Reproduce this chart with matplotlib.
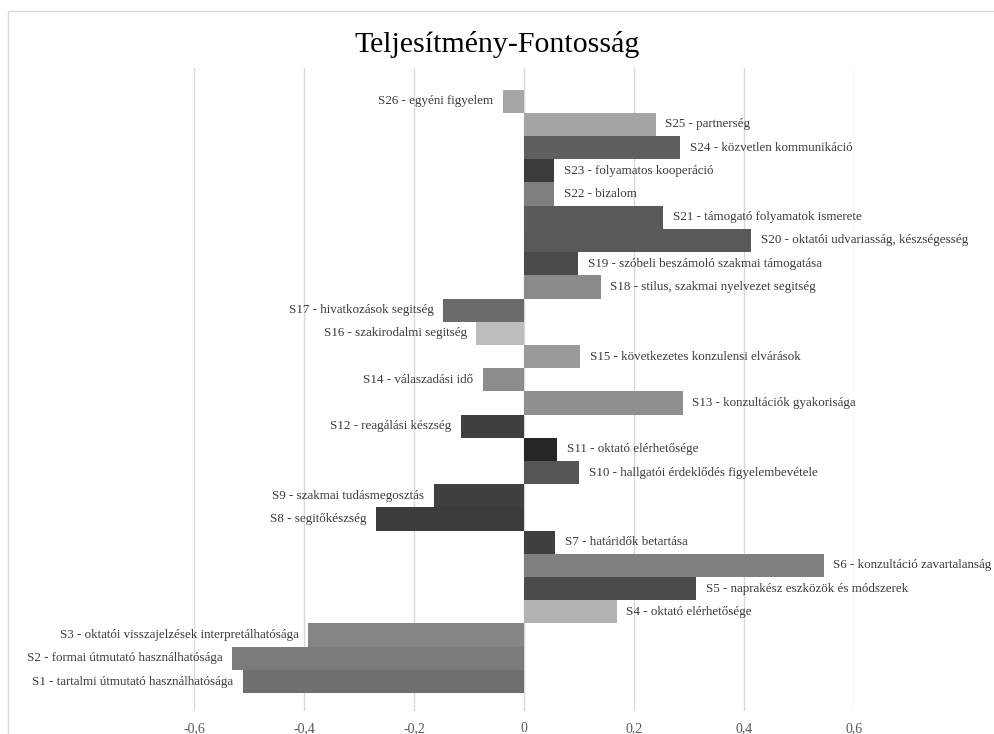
import matplotlib
matplotlib.use("Agg")
import matplotlib.pyplot as plt
from matplotlib.patches import Rectangle

plt.rcParams['font.family'] = ['Liberation Serif', 'DejaVu Serif']

# Data (bottom to top)
labels = [
    "S1 - tartalmi útmutató használhatósága",
    "S2 - formai útmutató használhatósága",
    "S3 - oktatói visszajelzések interpretálhatósága",
    "S4 - oktató elérhetősége",
    "S5 - naprakész eszközök és módszerek",
    "S6 - konzultáció zavartalanság",
    "S7 - határidők betartása",
    "S8 - segitőkészség",
    "S9 - szakmai tudásmegosztás",
    "S10 - hallgatói érdeklődés figyelembevétele",
    "S11 - oktató elérhetősége",
    "S12 - reagálási készség",
    "S13 - konzultációk gyakorisága",
    "S14 - válaszadási idő",
    "S15 - következetes konzulensi elvárások",
    "S16 - szakirodalmi segitség",
    "S17 - hivatkozások segitség",
    "S18 - stilus, szakmai nyelvezet segitség",
    "S19 - szóbeli beszámoló szakmai támogatása",
    "S20 - oktatói udvariasság, készségesség",
    "S21 - támogató folyamatok ismerete",
    "S22 - bizalom",
    "S23 - folyamatos kooperáció",
    "S24 - közvetlen kommunikáció",
    "S25 - partnerség",
    "S26 - egyéni figyelem",
]
values = [-0.511, -0.531, -0.393, 0.168, 0.312, 0.544, 0.056, -0.270, -0.165,
          0.100, 0.060, -0.115, 0.288, -0.075, 0.101, -0.087, -0.147, 0.139,
          0.098, 0.412, 0.253, 0.054, 0.054, 0.283, 0.239, -0.039]
colors = ["#707070", "#7b7b7b", "#858585", "#b3b3b3", "#4b4b4b", "#808080",
          "#3f3f3f", "#3b3b3b", "#404040", "#555555", "#262626", "#3f3f3f",
          "#8f8f8f", "#8c8c8c", "#9a9a9a", "#bdbdbd", "#6b6b6b", "#8a8a8a",
          "#4a4a4a", "#595959", "#5a5a5a", "#7f7f7f", "#3b3b3b", "#5f5f5f",
          "#a5a5a5", "#a6a6a6"]
xticks = [-0.6, -0.4, -0.2, 0, 0.2, 0.4, 0.6]
xticklabels = ["-0,6", "-0,4", "-0,2", "0", "0,2", "0,4", "0,6"]

W, H = 995, 734
fig = plt.figure(figsize=(W / 100, H / 100), dpi=100)

# chart border (top and left visible)
fig.patches.append(Rectangle((8 / W, -0.1), 1.2, 1 - 11 / H + 0.1,
                             transform=fig.transFigure, fill=False,
                             edgecolor="#d9d9d9", linewidth=1))

ax = fig.add_axes([194.3 / W, 1 - 711 / H, 660 / W, 643 / H])
ypos = list(range(len(values)))
ax.barh(ypos, values, height=1.0, color=colors, zorder=2)

for y, v, lab in zip(ypos, values, labels):
    if v >= 0:
        ax.annotate(lab, (v, y), xytext=(7, 0), textcoords="offset points",
                    ha="left", va="center", fontsize=9.4, color="#3a3a3a",
                    annotation_clip=False)
    else:
        ax.annotate(lab, (v, y), xytext=(-7, 0), textcoords="offset points",
                    ha="right", va="center", fontsize=9.4, color="#3a3a3a",
                    annotation_clip=False)

ax.set_xlim(-0.6, 0.6)
ax.set_ylim(-1.27, 26.43)
ax.set_xticks(xticks)
ax.set_xticklabels(xticklabels, fontsize=10, color="#595959")
ax.set_yticks([])
ax.tick_params(axis="x", length=0, pad=8)
ax.grid(axis="x", color="#d9d9d9", linewidth=1, zorder=0)
for s in ax.spines.values():
    s.set_visible(False)

fig.text(0.5, 1 - 44 / H, "Teljesítmény-Fontosság", ha="center", va="center",
         fontsize=21.5, color="#000000")

fig.savefig("out.png", dpi=100)
